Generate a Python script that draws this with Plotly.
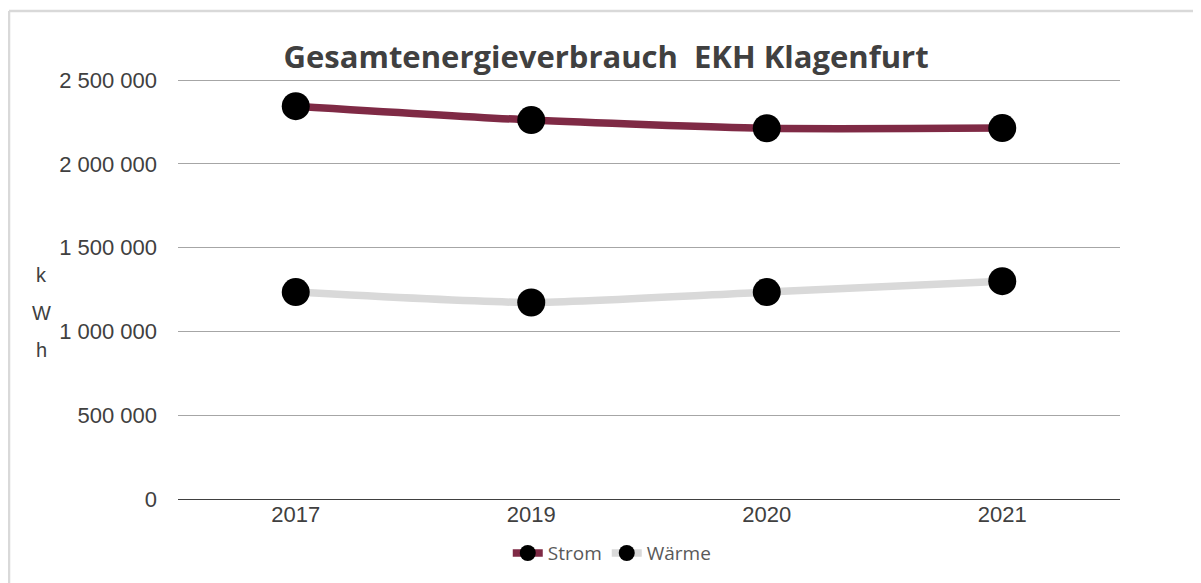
import plotly.graph_objects as go

years = ["2017", "2019", "2020", "2021"]
strom = [2345000, 2262000, 2213000, 2214000]
waerme = [1235000, 1173000, 1235000, 1300000]
y_ticks = [0, 500000, 1000000, 1500000, 2000000, 2500000]

fig = go.Figure()
fig.add_trace(go.Scatter(
    x=years, y=strom, name="Strom", mode="lines+markers",
    line=dict(color="#7f2a45", width=7.5, shape="spline", smoothing=0.6),
    marker=dict(color="black", size=28),
))
fig.add_trace(go.Scatter(
    x=years, y=waerme, name="Wärme", mode="lines+markers",
    line=dict(color="#d9d9d9", width=7.5, shape="spline", smoothing=0.6),
    marker=dict(color="black", size=28),
))

# plot area: x 170..1112, y(0)=491, y(2.5M)=72 in figure px
fig.update_layout(
    width=1201, height=583,
    paper_bgcolor="white", plot_bgcolor="white",
    margin=dict(l=170, r=89, t=68, b=92),
    separators=", ",
    title=dict(text="<b>Gesamtenergieverbrauch  EKH Klagenfurt</b>",
               x=0.498, xanchor="center", y=0.916, yanchor="middle",
               font=dict(family="Open Sans", size=31, color="#404040")),
    xaxis=dict(type="category", range=[-0.5, 3.5], showgrid=False,
               showline=False, ticks="",
               tickfont=dict(family="Liberation Sans", size=22, color="#404040")),
    yaxis=dict(range=[0, 2525000], tickvals=y_ticks, tickformat=",d",
               showgrid=True, gridcolor="#a6a6a6", gridwidth=1.3,
               zeroline=True, zerolinecolor="#404040", zerolinewidth=1.3,
               showline=False, ticks="", ticklen=0, ticklabelstandoff=20,
               tickfont=dict(family="Liberation Sans", size=22, color="#404040")),
    legend=dict(orientation="h", x=0.461, xanchor="center", y=-0.128, yanchor="middle",
                font=dict(family="Open Sans", size=19, color="#595959"),
                tracegroupgap=0),
    showlegend=True,
)
H = 583 - 68 - 92
def py(v):
    return (491 - v) / H
for letter, yy in zip(["k", "W", "h"], [267, 305, 342]):
    fig.add_annotation(text=letter, xref="paper", yref="paper",
                       x=-0.1445, y=py(yy), xanchor="center", yanchor="middle",
                       showarrow=False,
                       font=dict(family="Liberation Sans", size=20, color="#404040"))
fig.add_shape(type="line", xref="paper", yref="paper",
              x0=-0.1794, x1=-0.1794, y0=py(3), y1=-0.25,
              line=dict(color="#d9d9d9", width=2.5))
fig.add_shape(type="line", xref="paper", yref="paper",
              x0=-0.1794, x1=1.12, y0=py(3), y1=py(3),
              line=dict(color="#d9d9d9", width=2.5))
fig.write_html("out.html")
